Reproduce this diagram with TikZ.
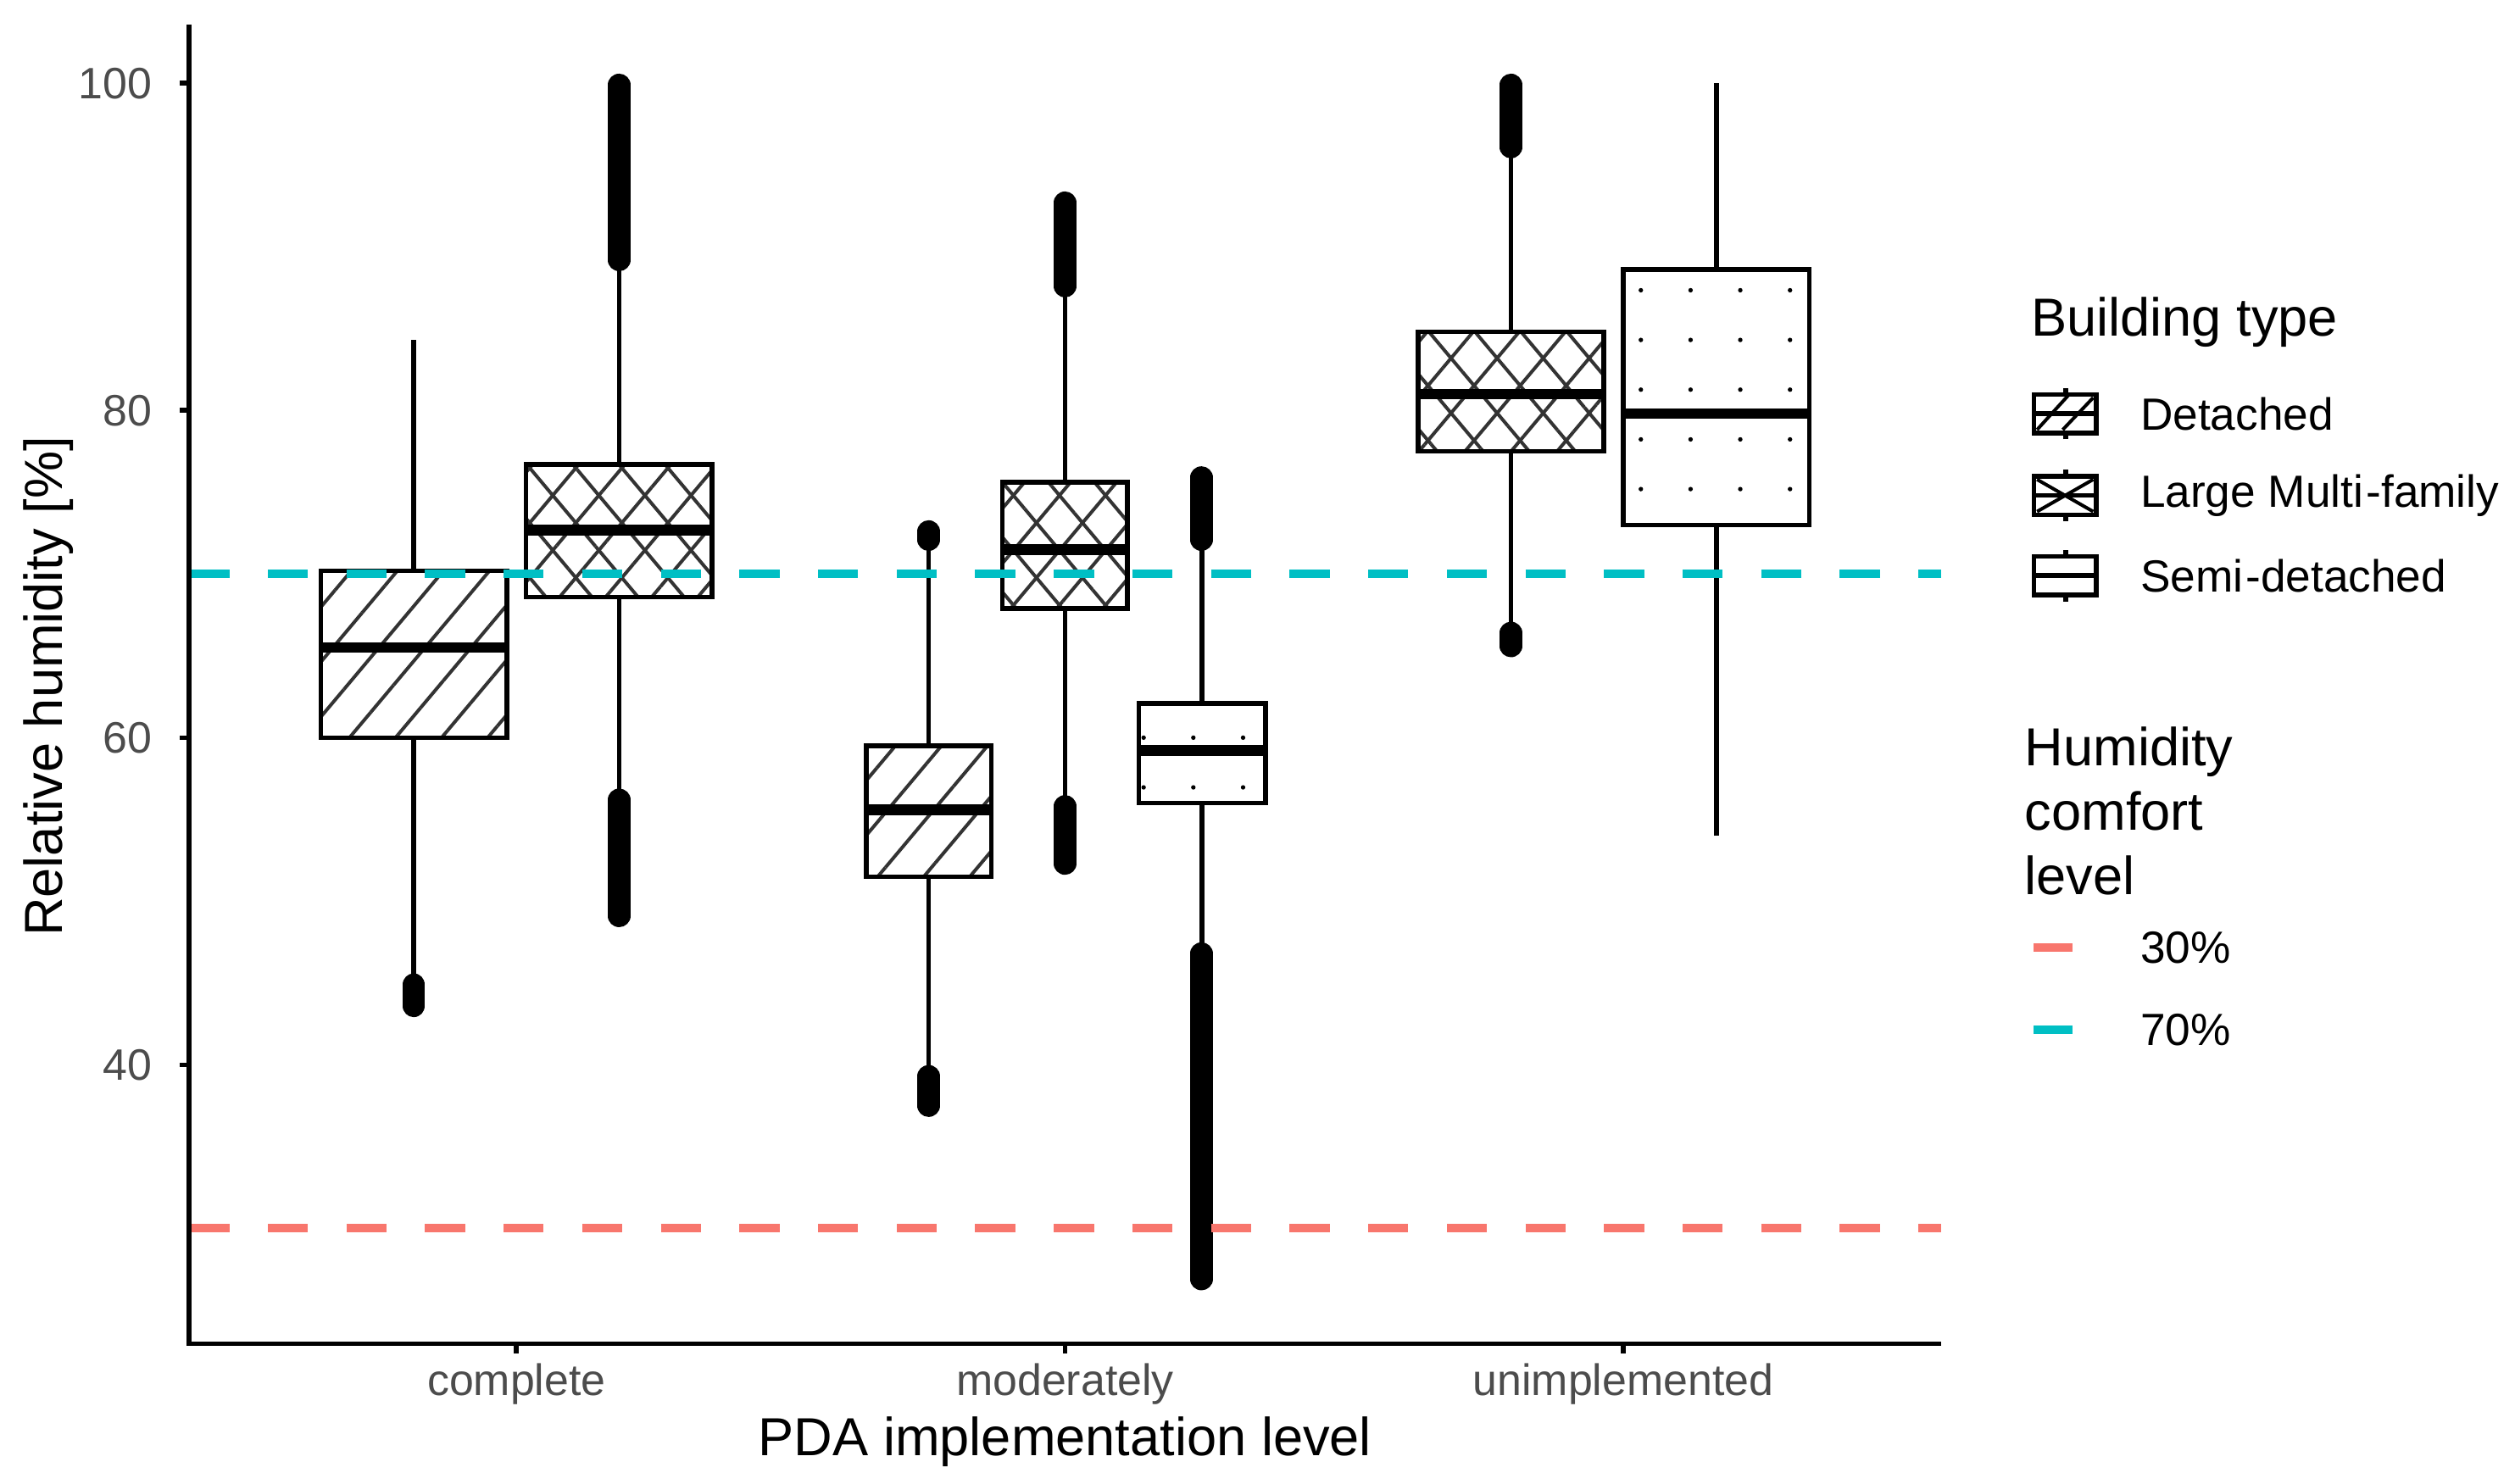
\documentclass[tikz,border=0pt]{standalone}
\usepackage{fontspec}
\setmainfont{Liberation Sans}
\usetikzlibrary{patterns.meta}
\definecolor{redline}{HTML}{F8766D}
\definecolor{cyanline}{HTML}{00BFC4}
\tikzset{
  boxline/.style={draw=black,line width=0.85pt},
  medline/.style={line width=1.9pt},
  whisk/.style={line width=0.85pt},
  outl/.style={line width=0.14cm,line cap=round},
  comfort/.style={line width=1.5pt,dash pattern=on 0.25cm off 0.24cm},
  hatchA/.style={pattern={Lines[angle=50,distance=0.22cm,line width=0.6pt]},pattern color=black!80},
  hatchB/.style={pattern={Lines[angle=-50,distance=0.22cm,line width=0.6pt]},pattern color=black!80},
  dotfill/.style={pattern={Dots[distance=0.31cm,radius=0.4pt]},pattern color=black},
  ticklab/.style={font=\fontsize{7.8}{9}\selectfont,text=black!70},
  axtitle/.style={font=\fontsize{9.5}{11}\selectfont},
  legtitle/.style={font=\fontsize{9.5}{11.4}\selectfont,align=left},
  leglab/.style={font=\fontsize{8}{9}\selectfont,anchor=west}
}
% box: xl, xr, q1, median, q3, whisker low, whisker high, fill styles
\newcommand{\bxp}[8]{%
  \draw[whisk] ({(#1+#2)/2},#6) -- ({(#1+#2)/2},#7);
  \fill[white] (#1,#3) rectangle (#2,#5);
  \foreach \st in {#8}{\fill[\st] (#1,#3) rectangle (#2,#5);}
  \draw[boxline] (#1,#3) rectangle (#2,#5);
  \draw[medline] (#1,#4) -- (#2,#4);
}
\newcommand{\outrun}[3]{\draw[outl] (#1,#2) -- (#1,#3);}
\begin{document}
\begin{tikzpicture}
\useasboundingbox (0,0) rectangle (15.68,9.25);
\begin{scope}[yshift=-1.47cm,y=0.102cm]
  % complete
  \bxp{2.00}{3.16}{60}{65.5}{70.2}{45}{84.3}{hatchA}
  \outrun{2.58}{43.6}{44.9}
  \bxp{3.28}{4.44}{68.6}{72.7}{76.7}{56.5}{88.8}{hatchA,hatchB}
  \outrun{3.86}{49.1}{56.2}
  \outrun{3.86}{89.2}{99.9}
  % moderately
  \bxp{5.40}{6.18}{51.5}{55.6}{59.5}{39.6}{71.5}{hatchA}
  \outrun{5.79}{37.5}{39.3}
  \outrun{5.79}{72.1}{72.6}
  \bxp{6.25}{7.03}{67.9}{71.5}{75.6}{56}{87}{hatchA,hatchB}
  \outrun{6.64}{52.3}{55.8}
  \outrun{6.64}{87.6}{92.7}
  \bxp{7.10}{7.89}{56}{59.2}{62.1}{47}{71.5}{dotfill}
  \outrun{7.49}{26.9}{46.8}
  \outrun{7.49}{72.1}{75.9}
  % unimplemented
  \bxp{8.84}{10.00}{77.5}{81}{84.8}{66.8}{95.5}{hatchA,hatchB}
  \outrun{9.42}{65.6}{66.4}
  \outrun{9.42}{96.1}{99.9}
  \bxp{10.12}{11.28}{73}{79.8}{88.6}{54}{100}{dotfill}
  % comfort levels
  \draw[comfort,redline] (1.18,30) -- (12.10,30);
  \draw[comfort,cyanline] (1.18,70) -- (12.10,70);
  % axes
  \draw[line width=0.85pt] (1.18,103.6) -- (1.18,22.94) -- (12.10,22.94);
  \foreach \v in {40,60,80,100}{
    \draw[line width=0.85pt] (1.12,\v) -- (1.18,\v);
    \node[ticklab,anchor=east] (yt\v) at (1.07,\v) {\v};
  }
  \foreach \xc/\lab in {3.22/complete,6.64/moderately,10.12/unimplemented}{
    \draw[line width=0.85pt] (\xc,22.94) -- (\xc,22.35);
    \node[ticklab] (xt\lab) at (\xc,20.5) {\lab};
  }
\end{scope}
\node[axtitle] (xtitle) at (6.64,0.26) {PDA implementation level};
\node[axtitle,rotate=90] (ytitle) at (0.30,4.97) {Relative humidity [\%]};
% legend: building type
\node[legtitle,anchor=west] (lbt) at (12.54,7.24) {Building type};
\foreach \yk/\lab in {6.67/Detached,6.16/Large Multi\kern0.5pt{-}family,5.66/Semi\kern0.5pt{-}detached}{
  \draw[whisk] (12.88,\yk-0.16) -- (12.88,\yk+0.16);
  \fill[white] (12.68,\yk-0.12) rectangle (13.07,\yk+0.12);
  \draw[boxline] (12.68,\yk-0.12) rectangle (13.07,\yk+0.12);
  \draw[line width=0.85pt] (12.68,\yk) -- (13.07,\yk);
  \node[leglab] (lk\yk) at (13.22,\yk) {\lab};
}
% key patterns
\draw[line width=0.6pt] (12.70,6.57) -- (12.90,6.79) (12.86,6.57) -- (13.05,6.77);
\draw[line width=0.6pt] (12.70,6.06) -- (13.05,6.26) (12.70,6.26) -- (13.05,6.06);
% legend: comfort level
\node[legtitle,anchor=north west] (lhc) at (12.50,4.84) {Humidity\\comfort\\level};
\draw[comfort,redline,dash pattern=] (12.68,3.34) -- (12.92,3.34);
\node[leglab] (l30) at (13.22,3.34) {30\%};
\draw[comfort,cyanline,dash pattern=] (12.68,2.83) -- (12.92,2.83);
\node[leglab] (l70) at (13.22,2.83) {70\%};
\end{tikzpicture}
\end{document}
